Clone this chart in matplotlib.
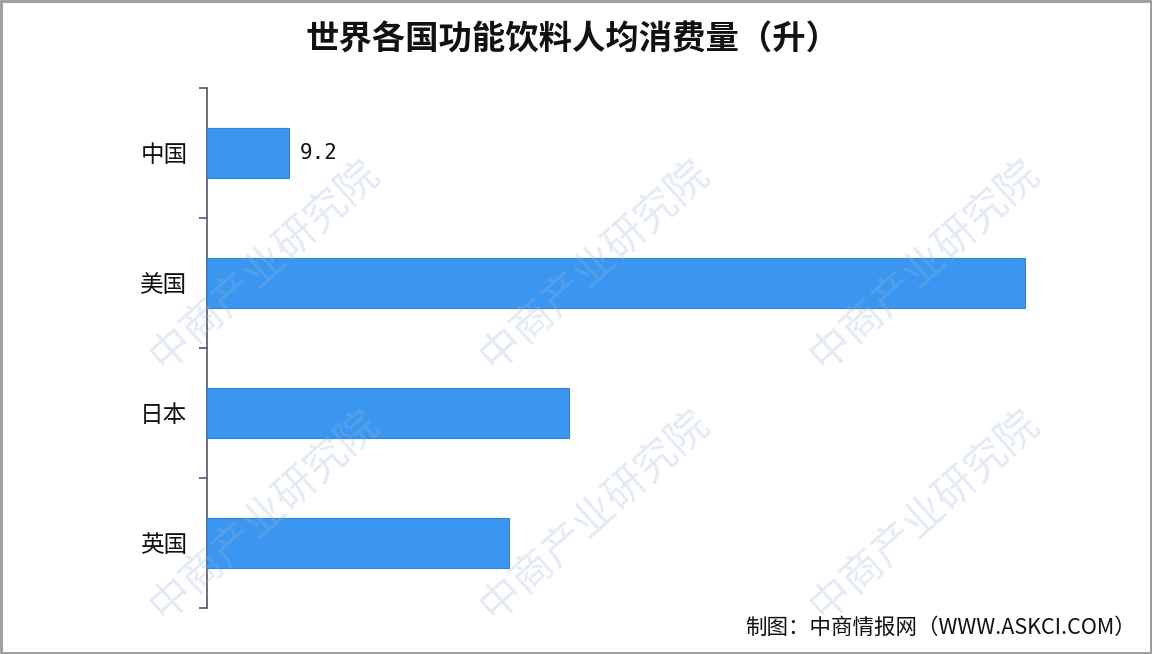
import matplotlib
matplotlib.use("Agg")
import matplotlib.pyplot as plt
from matplotlib.patches import Rectangle

plt.rcParams['font.family'] = ['Noto Sans CJK SC', 'DejaVu Sans']

countries = ["中国", "美国", "日本", "英国"]
values = [9.2, 91.8, 40.6, 33.9]
labeled = {"中国": "9.2"}

title = "世界各国功能饮料人均消费量（升）"
source = "制图：中商情报网（WWW.ASKCI.COM）"
watermark = "中商产业研究院"

fig = plt.figure(figsize=(11.52, 6.54), dpi=100)
fig.patch.set_facecolor("white")

# faint watermarks (only those fully inside the picture)
for cx in [265, 595, 925]:
    for cy in [265, 515]:
        fig.text(cx / 1152, 1 - cy / 654, watermark, rotation=42, fontsize=30,
                 color="#9fb8d8", alpha=0.28, ha="center", va="center", zorder=0)

ax = fig.add_axes([207 / 1152, 1 - 608 / 654, (1100 - 207) / 1152, 520 / 654])
ax.set_facecolor("none")
y = list(range(len(countries)))
ax.barh(y, values, height=0.38, color="#3a96f0", edgecolor="#2f86de", linewidth=0.8, zorder=3)
ax.set_xlim(0, (1100 - 207) / 8.913)
ax.set_ylim(3.5, -0.5)

for yi, c, v in zip(y, countries, values):
    if c in labeled:
        ax.text(v + 1.2, yi, labeled[c], va="center", ha="left", fontsize=15,
                color="#111111", family=["DejaVu Sans Mono"])

ax.set_yticks(y)
ax.set_yticklabels(countries, fontsize=17, color="#111111")
ax.tick_params(axis="y", which="major", length=0, pad=14)
ax.set_yticks([-0.5, 0.5, 1.5, 2.5, 3.5], minor=True)
ax.tick_params(axis="y", which="minor", length=6, width=1.2, color="#5b5068")
ax.set_xticks([])
for s in ["top", "right", "bottom"]:
    ax.spines[s].set_visible(False)
ax.spines["left"].set_color("#5b5068")
ax.spines["left"].set_linewidth(1.2)

fig.text(573 / 1152, 1 - 40 / 654, title, ha="center", va="center", fontsize=24,
         fontweight="bold", color="#111111")
fig.text(1136 / 1152, 1 - 628 / 654, source, ha="right", va="center",
         fontsize=15.5, color="#111111")

fig.patches.append(Rectangle((0.001, 0.002), 0.998, 0.996, transform=fig.transFigure,
                             fill=False, edgecolor="#9a9a9a", linewidth=2.0))

fig.savefig("out.png", dpi=100)
